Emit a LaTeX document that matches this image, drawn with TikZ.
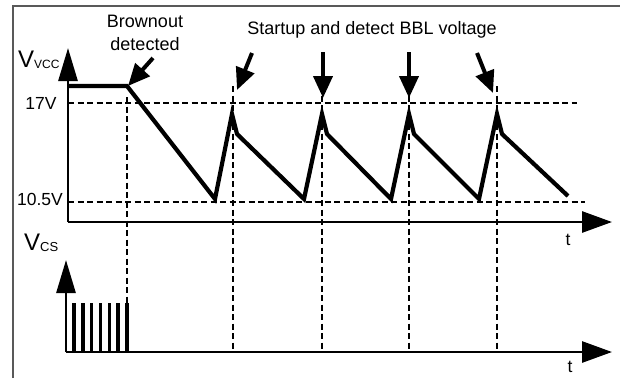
\documentclass[tikz,border=0pt]{standalone}
\usepackage{fontspec}
\setmainfont{Liberation Sans}
\usetikzlibrary{arrows.meta, positioning}

\begin{document}
\begin{tikzpicture}[x=1pt, y=-1pt]
\tikzset{
  axis/.style={line width=2.8pt, -{Triangle[length=30pt,width=21pt]}},
  vaxis/.style={line width=2.8pt, -{Triangle[length=33pt,width=19pt]}},
  trace/.style={line width=4.2pt, line join=miter},
  guide/.style={line width=1.5pt, dash pattern=on 6pt off 3.5pt},
  pointer/.style={line width=4pt, -{Triangle[length=22pt,width=19pt]}},
  pulse/.style={line width=3.4pt},
  lbl/.style={font=\fontsize{18}{23}\selectfont, inner sep=0pt}
}

\useasboundingbox (0,0) rectangle (620,378);

% frame
\draw[line width=2pt, black!65] (13,378) -- (13,6) -- (620,6);

\coordinate (O1) at (68,222);
\coordinate (Y1) at (68,48);
\coordinate (X1) at (612,222);
\coordinate (O2) at (66,352);
\coordinate (Y2) at (66,260);
\coordinate (X2) at (612,352);

% levels
\draw[guide] (68,103) -- (577,103);
\draw[guide] (68,202) -- (585,202);

% markers
\draw[guide] (127,97) -- (127,352);
\foreach \x in {233,322,409,497}
  \draw[guide] (\x,86) -- (\x,352);

% axes
\draw[vaxis] (O1) -- (Y1);
\draw[axis] (O1) -- (X1);
\draw[vaxis] (O2) -- (Y2);
\draw[axis] (O2) -- (X2);

% supply voltage
\draw[trace] (68,86) -- (127,86) -- (215,199)
  -- (232,114) -- (237,134) -- (304,199)
  -- (322,114) -- (327,134) -- (391,199)
  -- (409,114) -- (414,134) -- (479,199)
  -- (497,114) -- (502,134) -- (568,196);

% current sense pulses
\foreach \i in {0,...,6}
  \draw[pulse] (74+8.8*\i,352) -- ++(0,-49);

% annotation arrows
\coordinate (B0) at (153,58);
\coordinate (B1) at (128,86);
\coordinate (S1) at (252,53);
\coordinate (T1) at (237,90);
\coordinate (S2) at (323,52);
\coordinate (T2) at (323,98);
\coordinate (S3) at (409,52);
\coordinate (T3) at (409,98);
\coordinate (S4) at (477,53);
\coordinate (T4) at (493,93);
\draw[pointer] (B0) -- (B1);
\draw[pointer] (S1) -- (T1);
\draw[pointer] (S2) -- (T2);
\draw[pointer] (S3) -- (T3);
\draw[pointer] (S4) -- (T4);

% labels
\node[lbl, align=center] (bo) at (145,33) {Brownout\\detected};
\node[lbl] (su) at (372,30) {Startup and detect BBL voltage};
\node[lbl, font=\fontsize{17.5}{20}\selectfont] (v17) at (41,103) {17V};
\node[lbl, font=\fontsize{17.5}{20}\selectfont] (v10) at (40,199) {10.5V};
\node[lbl, anchor=base west] (vcc) at (18,67)
  {\fontsize{24}{24}\selectfont V\raisebox{-1pt}{\fontsize{12}{12}\selectfont VCC}};
\node[lbl, anchor=base west] (vcs) at (24,250)
  {\fontsize{24}{24}\selectfont V\raisebox{-1pt}{\fontsize{13}{13}\selectfont CS}};
\node[lbl, font=\fontsize{17.5}{20}\selectfont] (t1) at (568,240) {t};
\node[lbl, font=\fontsize{17.5}{20}\selectfont] (t2) at (570,367) {t};
\end{tikzpicture}
\end{document}
